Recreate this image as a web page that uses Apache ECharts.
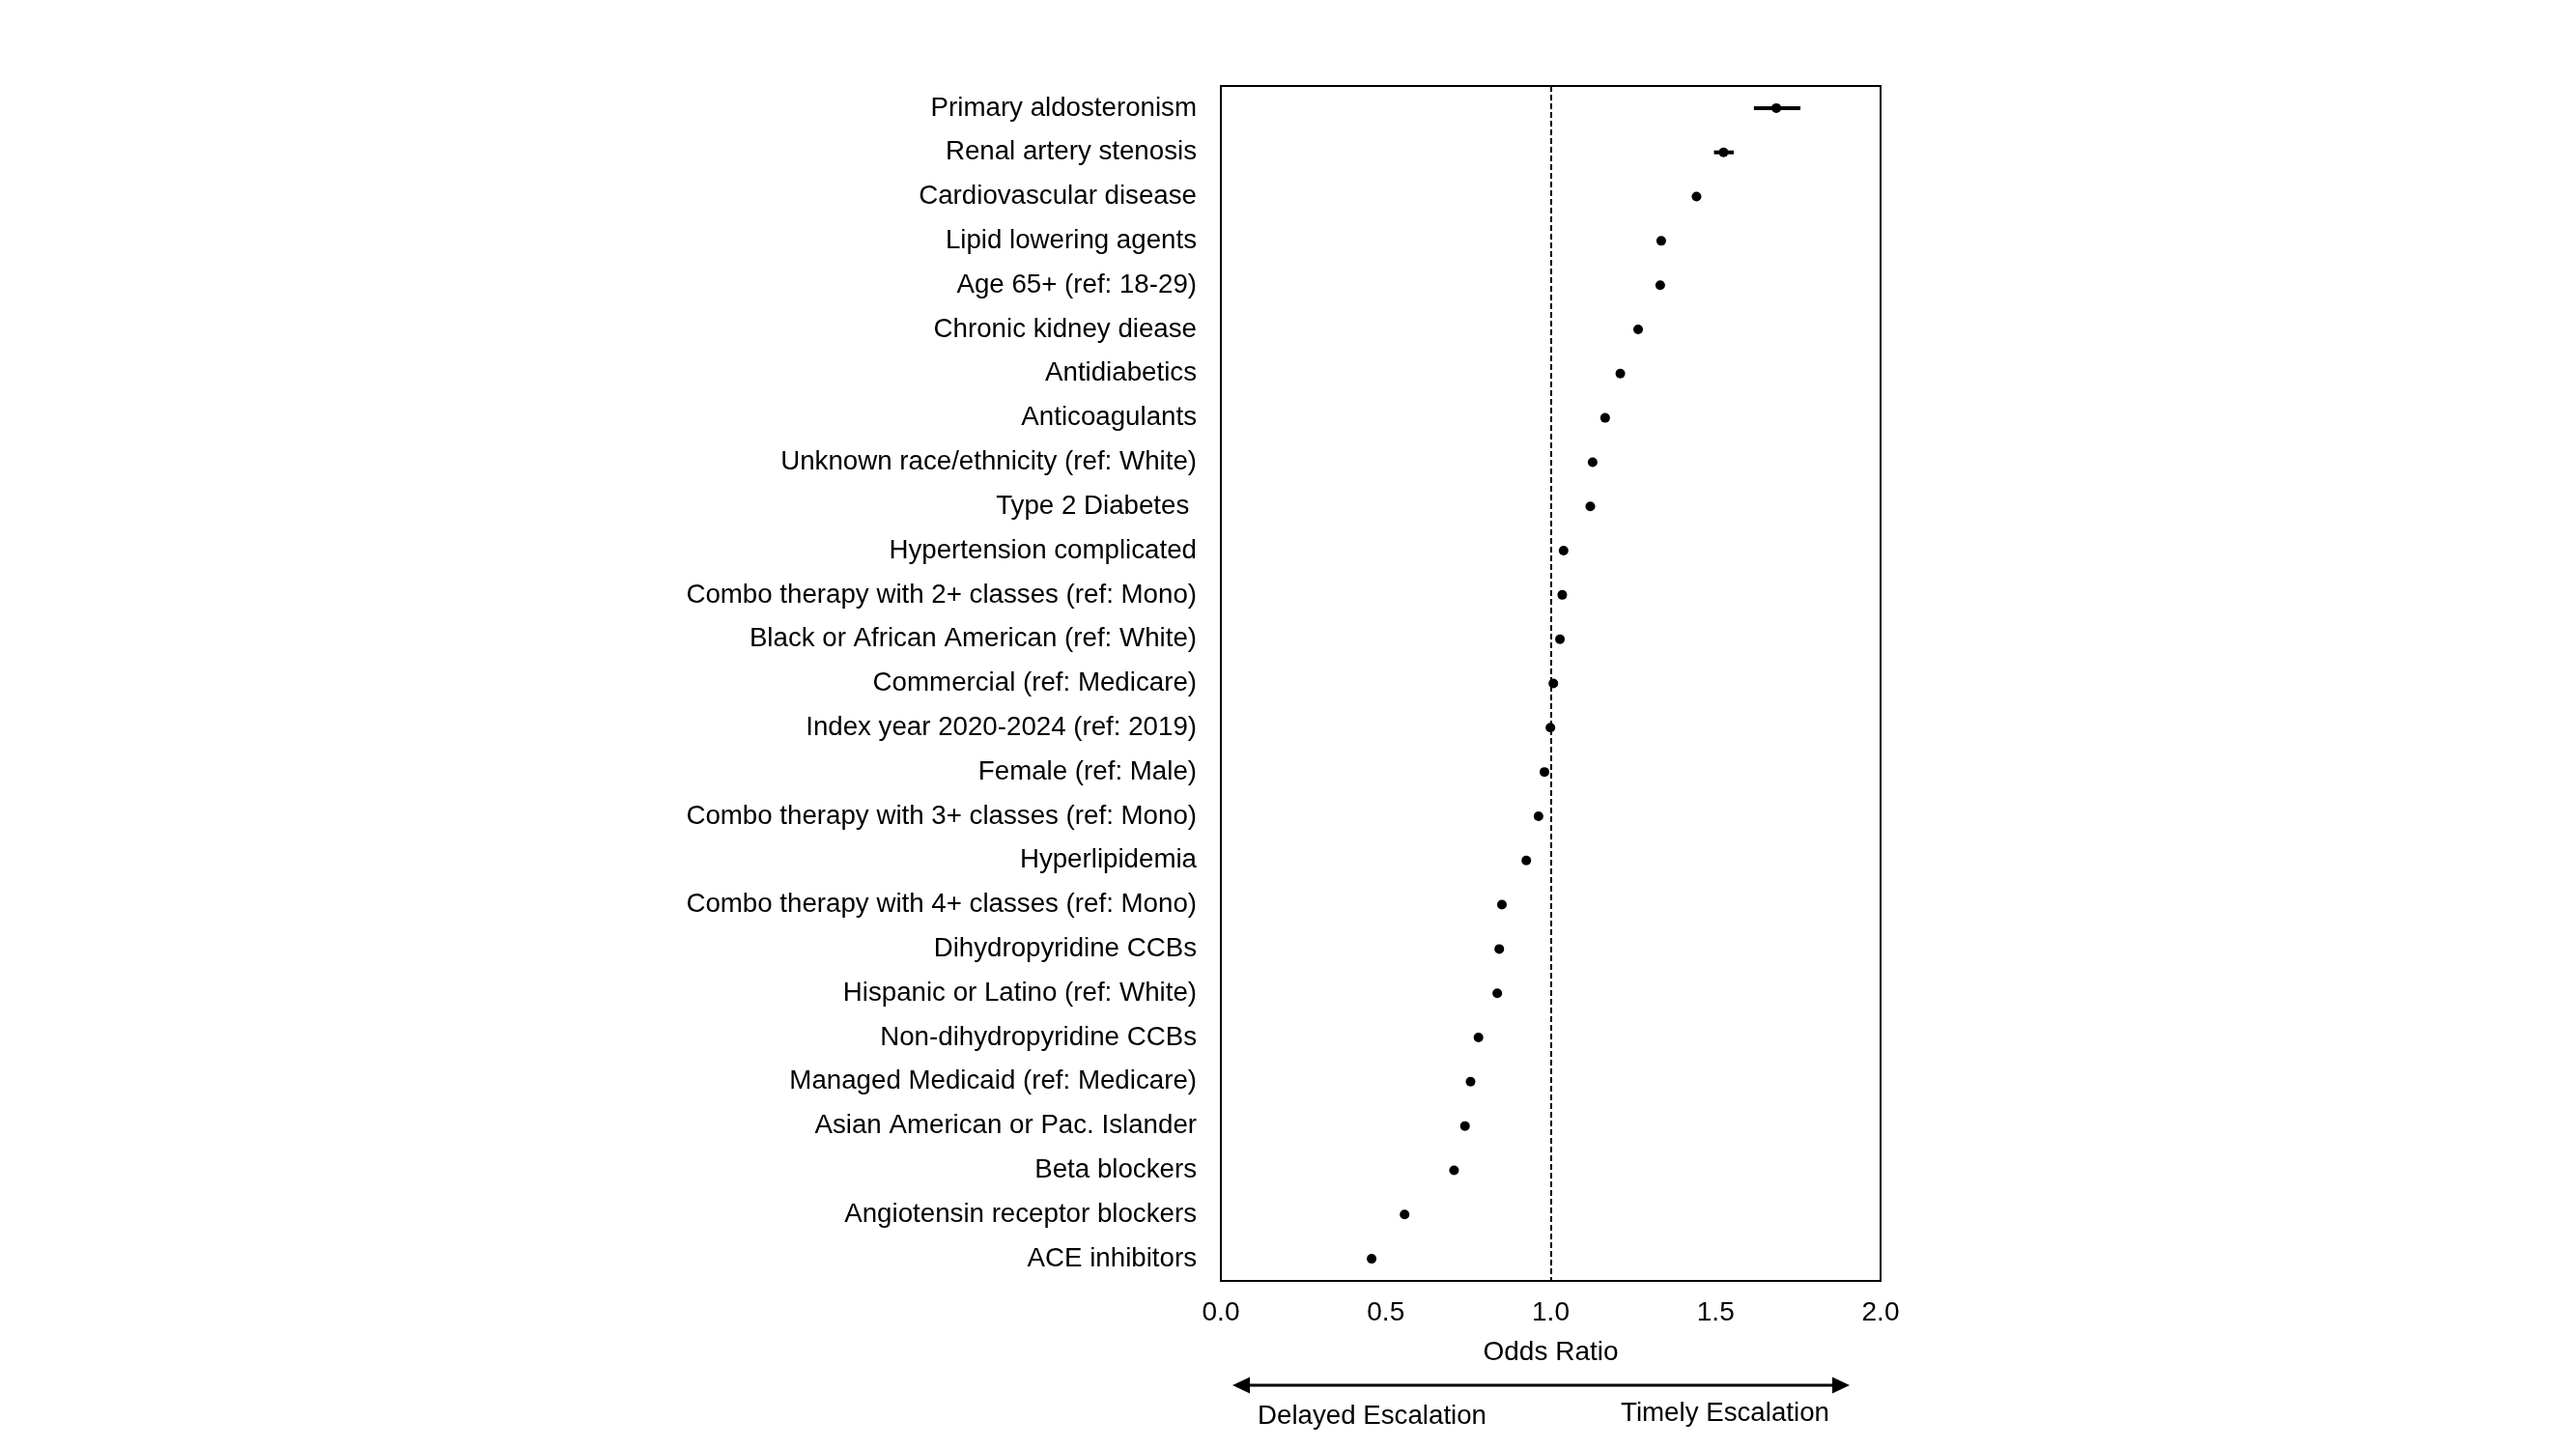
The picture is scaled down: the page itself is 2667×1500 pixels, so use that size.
<!DOCTYPE html>
<html>
<head>
<meta charset="utf-8">
<script src="https://cdn.jsdelivr.net/npm/echarts@6/dist/echarts.min.js"></script>
<style>
  html, body { margin: 0; padding: 0; background: #fff; }
  #chart { width: 2667px; height: 1500px; }
</style>
</head>
<body>
<div id="chart"></div>
<script>
const FONT = '"Liberation Sans", Arial, sans-serif';

// rows top to bottom
const labels = [
  'Primary aldosteronism',
  'Renal artery stenosis',
  'Cardiovascular disease',
  'Lipid lowering agents',
  'Age 65+ (ref: 18-29)',
  'Chronic kidney diease',
  'Antidiabetics',
  'Anticoagulants',
  'Unknown race/ethnicity (ref: White)',
  'Type 2 Diabetes ',
  'Hypertension complicated',
  'Combo therapy with 2+ classes (ref: Mono)',
  'Black or African American (ref: White)',
  'Commercial (ref: Medicare)',
  'Index year 2020-2024 (ref: 2019)',
  'Female (ref: Male)',
  'Combo therapy with 3+ classes (ref: Mono)',
  'Hyperlipidemia',
  'Combo therapy with 4+ classes (ref: Mono)',
  'Dihydropyridine CCBs',
  'Hispanic or Latino (ref: White)',
  'Non-dihydropyridine CCBs',
  'Managed Medicaid (ref: Medicare)',
  'Asian American or Pac. Islander',
  'Beta blockers',
  'Angiotensin receptor blockers',
  'ACE inhibitors',
];

const oddsRatio = [
  1.684, 1.524, 1.442, 1.335, 1.332, 1.265, 1.211, 1.165, 1.127, 1.120,
  1.039, 1.035, 1.028, 1.008, 0.999, 0.981, 0.963, 0.926, 0.852, 0.844,
  0.838, 0.781, 0.757, 0.740, 0.707, 0.557, 0.457,
];

// confidence limits, only where they show past the dot
const ciLow = [1.616, 1.495];
const ciHigh = [1.757, 1.555];

const xTicks = [0, 0.5, 1, 1.5, 2];

const chart = echarts.init(document.getElementById('chart'));

const ciData = ciLow.map((lo, i) => [i, lo, ciHigh[i]]);

chart.setOption({
  backgroundColor: '#fff',
  animation: false,
  textStyle: { fontFamily: FONT, color: '#000' },
  grid: {
    left: 1264, right: 720, top: 89, bottom: 174,
    show: true, borderColor: '#000', borderWidth: 2, backgroundColor: 'transparent',
  },
  xAxis: {
    type: 'value',
    min: xTicks[0],
    max: xTicks[xTicks.length - 1],
    interval: 0.5,
    axisLine: { show: false },
    axisTick: { show: false },
    splitLine: { show: false },
    axisLabel: {
      color: '#000', fontSize: 28, fontFamily: FONT, margin: 19,
      formatter: (v) => v.toFixed(1),
    },
    name: 'Odds Ratio',
    nameLocation: 'middle',
    nameGap: 60,
    nameTextStyle: { color: '#000', fontSize: 28, fontFamily: FONT },
  },
  yAxis: {
    type: 'category',
    data: labels,
    inverse: true,
    axisLine: { show: false },
    axisTick: { show: false },
    splitLine: { show: false },
    axisLabel: { color: '#000', fontSize: 27.7, fontFamily: FONT, margin: 25, padding: [4, 0, 0, 0] },
  },
  series: [
    {
      type: 'custom',
      data: ciData,
      renderItem: (params, api) => {
        const a = api.coord([api.value(1), api.value(0)]);
        const b = api.coord([api.value(2), api.value(0)]);
        return {
          type: 'line',
          shape: { x1: a[0], y1: a[1], x2: b[0], y2: b[1] },
          style: { stroke: '#000', lineWidth: 4 },
        };
      },
      z: 2,
    },
    {
      type: 'scatter',
      data: oddsRatio.map((v, i) => [v, i]),
      symbol: 'circle',
      symbolSize: 10,
      itemStyle: { color: '#000', opacity: 1 },
      z: 3,
      markLine: {
        silent: true,
        symbol: 'none',
        label: { show: false },
        lineStyle: { color: '#000', width: 2, type: [6, 3] },
        data: [{ xAxis: 1 }],
      },
    },
  ],
  graphic: [
    { type: 'line', shape: { x1: 1290, y1: 1434, x2: 1900, y2: 1434 }, style: { stroke: '#000', lineWidth: 3 } },
    { type: 'polygon', shape: { points: [[1276, 1434], [1294, 1425.5], [1294, 1442.5]] }, style: { fill: '#000' } },
    { type: 'polygon', shape: { points: [[1915, 1434], [1897, 1425.5], [1897, 1442.5]] }, style: { fill: '#000' } },
    { type: 'text', x: 1302, y: 1466, style: { text: 'Delayed Escalation', font: '27.7px ' + FONT, fill: '#000', verticalAlign: 'middle' } },
    { type: 'text', x: 1678, y: 1463, style: { text: 'Timely Escalation', font: '27.7px ' + FONT, fill: '#000', verticalAlign: 'middle' } },
  ],
});
</script>
</body>
</html>
